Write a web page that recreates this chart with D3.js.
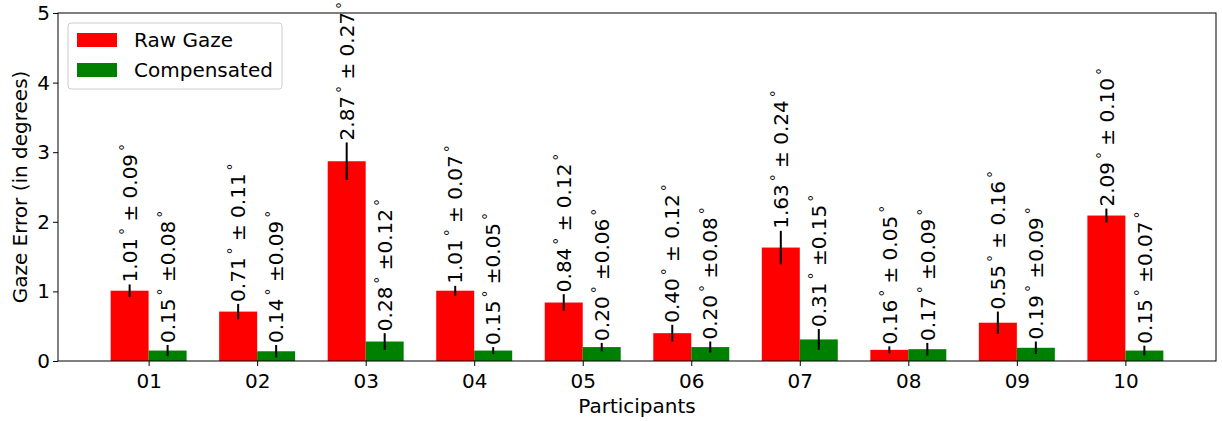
<!DOCTYPE html>
<html>
<head>
<meta charset="utf-8">
<script src="https://cdn.jsdelivr.net/npm/d3@7"></script>
<style>
  body { margin: 0; background: #fff; }
  text { font-family: "DejaVu Sans", sans-serif; fill: #000; }
</style>
</head>
<body>
<div class="chart"></div>
<script>
var participants = ["01", "02", "03", "04", "05", "06", "07", "08", "09", "10"];
var rawGaze = [1.01, 0.71, 2.87, 1.01, 0.84, 0.40, 1.63, 0.16, 0.55, 2.09];
var rawErr = [0.09, 0.11, 0.27, 0.07, 0.12, 0.12, 0.24, 0.05, 0.16, 0.10];
var compensated = [0.15, 0.14, 0.28, 0.15, 0.20, 0.20, 0.31, 0.17, 0.19, 0.15];
var compErr = [0.08, 0.09, 0.12, 0.05, 0.06, 0.08, 0.15, 0.09, 0.09, 0.07];
var yTicks = [0, 1, 2, 3, 4, 5];

var svgWidth = 1222;
var svgHeight = 421;
var margin = { top: 13, right: 6, bottom: 60, left: 58 };
var width = svgWidth - margin.left - margin.right;
var height = svgHeight - margin.top - margin.bottom;
var barW = 0.35;
var fs = 20;

var svg = d3.select(".chart")
  .append("svg")
  .attr("width", svgWidth)
  .attr("height", svgHeight);

var chartGroup = svg.append("g")
  .attr("transform", `translate(${margin.left}, ${margin.top})`);

// matplotlib-like 5% margins around [-0.35, 9.35]
var x = d3.scaleLinear()
  .domain([-0.35 - 0.485, participants.length - 1 + 0.35 + 0.485])
  .range([0, width]);

var y = d3.scaleLinear()
  .domain([0, 5])
  .range([height, 0]);

var series = [
  { name: "Raw Gaze", values: rawGaze, errs: rawErr, color: "red", offset: -barW, sep: " ± " },
  { name: "Compensated", values: compensated, errs: compErr, color: "green", offset: 0, sep: " ±" }
];

series.forEach(function(s) {
  var g = chartGroup.append("g");
  g.selectAll("rect")
    .data(s.values)
    .enter()
    .append("rect")
    .attr("x", (d, i) => x(i + s.offset))
    .attr("width", x(barW) - x(0))
    .attr("y", d => y(d))
    .attr("height", d => height - y(d))
    .attr("fill", s.color);

  g.selectAll("line")
    .data(s.values)
    .enter()
    .append("line")
    .attr("x1", (d, i) => x(i + s.offset + barW / 2))
    .attr("x2", (d, i) => x(i + s.offset + barW / 2))
    .attr("y1", (d, i) => y(d - s.errs[i]))
    .attr("y2", (d, i) => y(d + s.errs[i]))
    .attr("stroke", "#000")
    .attr("stroke-width", 2);

  // label sits just above the error bar top
  var labels = g.selectAll("text")
    .data(s.values)
    .enter()
    .append("text")
    .attr("transform", (d, i) => `translate(${x(i + s.offset + barW / 2)}, ${y(d + s.errs[i]) - 2}) rotate(-90)`)
    .attr("dy", "0.36em")
    .style("font-size", fs + "px");

  labels.each(function(d, i) {
    var t = d3.select(this);
    t.append("tspan").text(d.toFixed(2));
    t.append("tspan").attr("dx", 3).attr("dy", -7).style("font-size", "14px").text("°");
    t.append("tspan").attr("dy", 7).text(s.sep + s.errs[i].toFixed(2));
    t.append("tspan").attr("dx", 3).attr("dy", -7).style("font-size", "14px").text("°");
  });
});

// axes
var bottomAxis = d3.axisBottom(x)
  .tickValues(d3.range(participants.length))
  .tickFormat(i => participants[i])
  .tickSizeOuter(0)
  .tickSize(5);

var leftAxis = d3.axisLeft(y)
  .tickValues(yTicks)
  .tickFormat(d3.format("d"))
  .tickSizeOuter(0)
  .tickSize(5);

var xAxis = chartGroup.append("g")
  .attr("transform", `translate(0, ${height})`)
  .call(bottomAxis);

var yAxis = chartGroup.append("g")
  .call(leftAxis);

[xAxis, yAxis].forEach(function(a) {
  a.select(".domain").remove();
  a.selectAll("line").attr("stroke", "#000");
  a.selectAll("text").style("font-size", fs + "px").attr("fill", "#000");
});
xAxis.selectAll("text").attr("y", 13);

// frame
chartGroup.append("rect")
  .attr("width", width)
  .attr("height", height)
  .attr("fill", "none")
  .attr("stroke", "#000")
  .attr("stroke-width", 1);

chartGroup.append("text")
  .attr("x", width / 2)
  .attr("y", height + 52)
  .attr("text-anchor", "middle")
  .style("font-size", fs + "px")
  .text("Participants");

chartGroup.append("text")
  .attr("transform", "rotate(-90)")
  .attr("x", -height / 2)
  .attr("y", -31)
  .attr("text-anchor", "middle")
  .style("font-size", fs + "px")
  .text("Gaze Error (in degrees)");

// legend
var legend = chartGroup.append("g")
  .attr("transform", "translate(10, 10)");

legend.append("rect")
  .attr("width", 214)
  .attr("height", 66)
  .attr("rx", 3)
  .attr("fill", "#fff")
  .attr("fill-opacity", 0.8)
  .attr("stroke", "#ccc");

series.forEach(function(s, i) {
  legend.append("rect")
    .attr("x", 9)
    .attr("y", 10 + i * 30)
    .attr("width", 40)
    .attr("height", 14)
    .attr("fill", s.color);
  legend.append("text")
    .attr("x", 66)
    .attr("y", 17 + i * 30)
    .attr("dy", "0.36em")
    .style("font-size", fs + "px")
    .text(s.name);
});
</script>
</body>
</html>
